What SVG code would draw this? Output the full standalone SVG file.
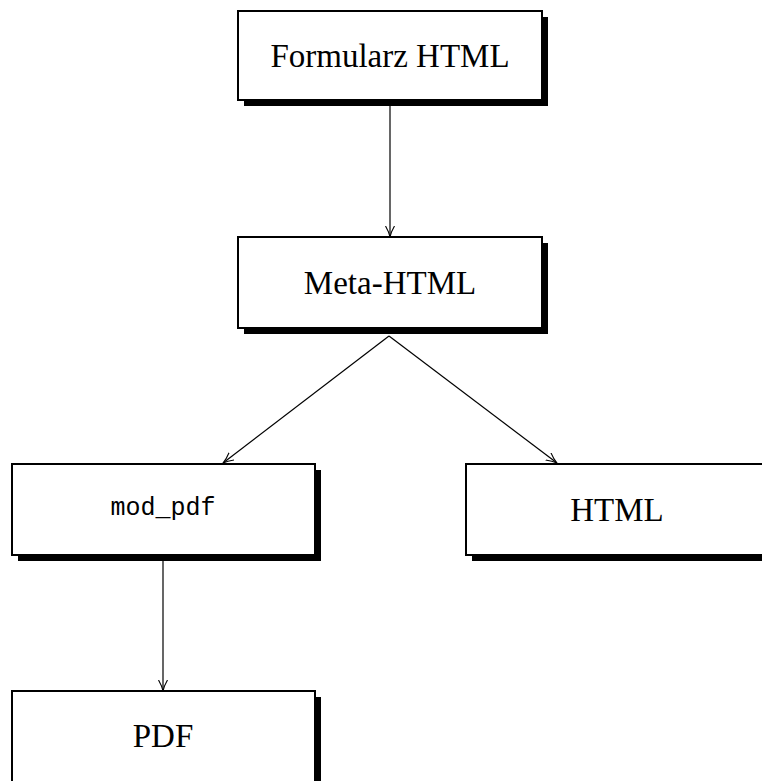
<svg xmlns="http://www.w3.org/2000/svg" width="762" height="781" viewBox="0 0 762 781">
<style>
.shadow{fill:#000}
.box{fill:#fff;stroke:#000;stroke-width:2}
.lbl{font-family:"Liberation Serif",serif;font-size:33px;fill:#000;text-anchor:middle}
.mono{font-family:"Liberation Mono",monospace;font-size:25px;fill:#000;text-anchor:middle}
.edge{stroke:#000;stroke-width:1.2;fill:none;marker-end:url(#arr)}
</style>
<defs>
<marker id="arr" viewBox="0 0 12 10" refX="11" refY="5" markerWidth="12" markerHeight="10" markerUnits="userSpaceOnUse" orient="auto">
<path d="M0,0.5 Q6,4 11,5 Q6,6 0,9.5" fill="none" stroke="#000" stroke-width="1.1"/>
</marker>
</defs>
<rect width="762" height="781" fill="#fff"/>
<g id="connectors">
<line class="edge" x1="390" y1="100" x2="390" y2="237"/>
<line class="edge" x1="389" y1="336" x2="223" y2="463"/>
<line class="edge" x1="389" y1="336" x2="557" y2="463"/>
<line class="edge" x1="163" y1="555" x2="163" y2="691"/>
</g>
<g id="formularz">
<rect class="shadow" x="244" y="17" width="304" height="89"/>
<rect class="box" x="238" y="11" width="304" height="89"/>
<text class="lbl" x="390" y="67">Formularz HTML</text>
</g>
<g id="meta">
<rect class="shadow" x="244" y="243" width="304" height="91"/>
<rect class="box" x="238" y="237" width="304" height="91"/>
<text class="lbl" x="390" y="294">Meta-HTML</text>
</g>
<g id="modpdf">
<rect class="shadow" x="18" y="470" width="303" height="91"/>
<rect class="box" x="12" y="464" width="303" height="91"/>
<text class="mono" x="163" y="515">mod_pdf</text>
</g>
<g id="html">
<rect class="shadow" x="472" y="470" width="304" height="91"/>
<rect class="box" x="466" y="464" width="304" height="91"/>
<text class="lbl" x="617" y="521">HTML</text>
</g>
<g id="pdf">
<rect class="shadow" x="18" y="697" width="303" height="91"/>
<rect class="box" x="12" y="691" width="303" height="91"/>
<text class="lbl" x="163" y="747">PDF</text>
</g>
</svg>
